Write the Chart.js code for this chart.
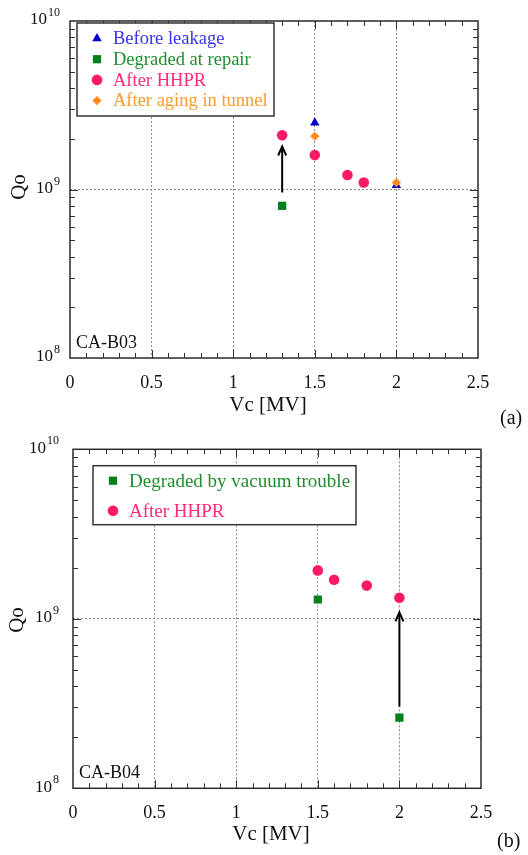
<!DOCTYPE html>
<html>
<head>
<meta charset="utf-8">
<script src="https://cdn.jsdelivr.net/npm/chart.js@4.4.1/dist/chart.umd.min.js"></script>
<style>
html,body{margin:0;padding:0;background:#fff;}
#wrapA{position:absolute;left:0;top:0;width:528px;height:430px}
#wrapB{position:absolute;left:0;top:430px;width:528px;height:425px}
</style>
</head>
<body>
<div id="wrapA"><canvas id="chA" width="528" height="430"></canvas></div>
<div id="wrapB"><canvas id="chB" width="528" height="425"></canvas></div>
<script>
/* ---- (a) CA-B03 ---- */
const vcBefore = [1.5, 2.0],        qBefore = [2.49e9, 1.06e9];
const vcRepair = [1.3],             qRepair = [8.0e8];
const vcHhprA  = [1.3, 1.5, 1.7, 1.8], qHhprA = [2.10e9, 1.60e9, 1.22e9, 1.10e9];
const vcAging  = [1.5, 2.0],        qAging  = [2.07e9, 1.10e9];
const arrowA   = [1.3, 9.6e8, 1.80e9];   // Vc, Q from, Q to

/* ---- (b) CA-B04 ---- */
const vcVacuum = [1.5, 2.0],        qVacuum = [1.30e9, 2.61e8];
const vcHhprB  = [1.5, 1.6, 1.8, 2.0], qHhprB = [1.93e9, 1.70e9, 1.57e9, 1.33e9];
const arrowB   = [2.0, 3.03e8, 1.09e9];

/* ---- axes ---- */
const xTickVals = [0, 0.5, 1, 1.5, 2, 2.5];
const yDecades  = [1e8, 1e9, 1e10];

const F = '"Liberation Serif","Times New Roman",serif';
const C = {
  blue:'#0000cc', blueTxt:'#3434f0',
  green:'#00801c', greenTxt:'#1e8e2c',
  pink:'#ff1a66', pinkTxt:'#ff2a78',
  orange:'#ff8c1a', orangeTxt:'#ff9a2e'
};

const pts = (xs, ys) => xs.map((v,i)=>({x:v, y:ys[i]}));

function mark(ctx, style, r, color, x, y){
  ctx.fillStyle = color;
  Chart.helpers.drawPoint(ctx, {pointStyle:style, radius:r, rotation:0, borderWidth:0}, x, y);
}

/* ---- decoration: frame, inside ticks, y labels, titles, legend, arrow ---- */
const deco = {
  id:'deco',
  afterDraw(chart, args, o){
    const {ctx, chartArea:a, scales:{x, y}} = chart;
    ctx.save();

    // inside minor ticks
    ctx.strokeStyle = '#333'; ctx.lineWidth = 1;
    ctx.beginPath();
    for(let i=1;i<25;i++){
      const px = Math.round(x.getPixelForValue(i/10))+.5, L = i%5===0?8:5;
      ctx.moveTo(px,a.bottom); ctx.lineTo(px,a.bottom-L);
      ctx.moveTo(px,a.top); ctx.lineTo(px,a.top+L);
    }
    yDecades.slice(0,-1).forEach(d=>{
      for(let m=1;m<=9;m++){
        if(m===1 && d===yDecades[0]) continue;
        const py = Math.round(y.getPixelForValue(d*m))+.5, L = m===1?8:5;
        ctx.moveTo(a.left,py); ctx.lineTo(a.left+L,py);
        ctx.moveTo(a.right,py); ctx.lineTo(a.right-L,py);
      }
    });
    ctx.stroke();

    // frame
    ctx.strokeStyle = '#2a2a2a'; ctx.lineWidth = 1.5;
    ctx.strokeRect(a.left, a.top, a.right-a.left, a.bottom-a.top);

    // y tick labels 10^n
    ctx.fillStyle = '#111'; ctx.textAlign = 'right'; ctx.textBaseline = 'middle';
    yDecades.forEach(v=>{
      const py = y.getPixelForValue(v), e = String(Math.round(Math.log10(v)));
      ctx.font = '12px '+F;
      const we = ctx.measureText(e).width;
      ctx.fillText(e, o.supRight, py-8);
      ctx.font = '17px '+F;
      ctx.fillText('10', o.supRight-we-1, py-1);
    });

    // axis titles
    ctx.textAlign = 'center';
    ctx.font = '21px '+F;
    ctx.fillText('Vc [MV]', o.xTitle[0], o.xTitle[1]);
    ctx.save();
    ctx.translate(o.yTitle[0], o.yTitle[1]); ctx.rotate(-Math.PI/2);
    ctx.fillText('Qo', 0, 0);
    ctx.restore();

    // panel letter and cavity name
    ctx.textAlign = 'left';
    ctx.font = '20px '+F;
    ctx.fillText(o.panel, o.panelPos[0], o.panelPos[1]);
    ctx.font = '18px '+F;
    ctx.fillText(o.name, a.left+6, a.bottom-15);

    // legend
    const L = o.legend;
    ctx.fillStyle = '#fff'; ctx.strokeStyle = '#333'; ctx.lineWidth = 1.5;
    ctx.fillRect(L.x, L.y, L.w, L.h); ctx.strokeRect(L.x, L.y, L.w, L.h);
    ctx.font = L.size+'px '+F; ctx.textBaseline = 'middle';
    chart.data.datasets.forEach((ds,i)=>{
      const yy = L.y + L.first + i*L.step;
      mark(ctx, ds.pointStyle, ds.pointRadius, ds.backgroundColor, L.x + L.mx, yy);
      ctx.fillStyle = ds.txt;
      ctx.fillText(ds.label, L.x + L.tx, yy+1);
    });

    // arrow
    const [av, q0, q1] = o.arrow;
    const ax = x.getPixelForValue(av), y0 = y.getPixelForValue(q0), y1 = y.getPixelForValue(q1);
    ctx.strokeStyle = '#000'; ctx.lineWidth = 2;
    ctx.beginPath(); ctx.moveTo(ax,y0); ctx.lineTo(ax,y1+1); ctx.stroke();
    ctx.beginPath(); ctx.moveTo(ax-4,y1+9); ctx.lineTo(ax,y1); ctx.lineTo(ax+4,y1+9); ctx.stroke();

    ctx.restore();
  }
};

function makeChart(id, datasets, cfg){
  const gridCol = '#8c8c8c', none = 'rgba(0,0,0,0)';
  return new Chart(document.getElementById(id), {
    type:'scatter',
    data:{datasets},
    options:{
      responsive:false, animation:false, devicePixelRatio:1,
      layout:{padding:{left:0, right:cfg.right, top:cfg.top, bottom:0}},
      plugins:{legend:{display:false}, tooltip:{enabled:false}, deco:cfg},
      scales:{
        x:{type:'linear', min:0, max:2.5,
          afterBuildTicks:s=>{ s.ticks = xTickVals.map(v=>({value:v})); },
          afterFit:s=>{ s.height = cfg.xh; },
          grid:{drawTicks:false, lineWidth:1,
            color:c=>(c.tick && c.tick.value>0 && c.tick.value<2.5)?gridCol:none},
          border:{display:false, dash:[2,2]},
          ticks:{font:{family:F, size:18}, color:'#111', padding:cfg.tickPad,
            maxRotation:0, autoSkip:false, callback:v=>String(v)}
        },
        y:{type:'logarithmic', min:1e8, max:1e10,
          afterBuildTicks:s=>{ s.ticks = yDecades.map(v=>({value:v})); },
          afterFit:s=>{ s.width = cfg.left; },
          grid:{drawTicks:false, lineWidth:1,
            color:c=>(c.tick && c.tick.value===1e9)?gridCol:none},
          border:{display:false, dash:[2,2]},
          ticks:{display:false}
        }
      }
    },
    plugins:[deco]
  });
}

makeChart('chA', [
  {label:'Before leakage', data:pts(vcBefore,qBefore), pointStyle:'triangle', pointRadius:5.5,
   backgroundColor:C.blue, borderWidth:0, txt:C.blueTxt, order:4},
  {label:'Degraded at repair', data:pts(vcRepair,qRepair), pointStyle:'rect', pointRadius:5.8,
   backgroundColor:C.green, borderWidth:0, txt:C.greenTxt, order:3},
  {label:'After HHPR', data:pts(vcHhprA,qHhprA), pointStyle:'circle', pointRadius:5.3,
   backgroundColor:C.pink, borderWidth:0, txt:C.pinkTxt, order:2},
  {label:'After aging in tunnel', data:pts(vcAging,qAging), pointStyle:'rectRot', pointRadius:4.6,
   backgroundColor:C.orange, borderWidth:0, txt:C.orangeTxt, order:1}
], {
  left:70, right:50, top:21, xh:72, tickPad:14, supRight:60,
  xTitle:[268,405], yTitle:[19,187], panel:'(a)', panelPos:[500,419], name:'CA-B03',
  legend:{x:77, y:23, w:197, h:93, first:15.5, step:20.7, mx:20, tx:36, size:18.5},
  arrow:arrowA
});

makeChart('chB', [
  {label:'Degraded by vacuum trouble', data:pts(vcVacuum,qVacuum), pointStyle:'rect', pointRadius:5.8,
   backgroundColor:C.green, borderWidth:0, txt:C.greenTxt, order:2},
  {label:'After HHPR', data:pts(vcHhprB,qHhprB), pointStyle:'circle', pointRadius:5.3,
   backgroundColor:C.pink, borderWidth:0, txt:C.pinkTxt, order:1}
], {
  left:73, right:47, top:19.3, xh:66.7, tickPad:14, supRight:59,
  xTitle:[271,404], yTitle:[17,190], panel:'(b)', panelPos:[497,412], name:'CA-B04',
  legend:{x:93, y:35.7, w:263, h:59, first:15, step:30, mx:20, tx:36, size:19},
  arrow:arrowB
});
</script>
</body>
</html>
